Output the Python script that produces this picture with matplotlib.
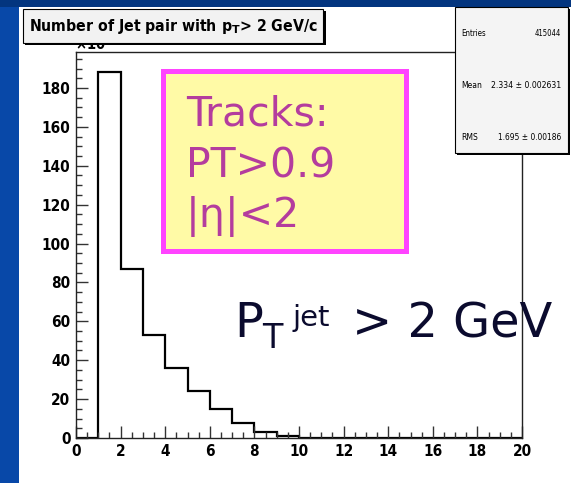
import matplotlib
matplotlib.use("Agg")
import matplotlib.pyplot as plt
from matplotlib.patches import Rectangle
from matplotlib import font_manager
from matplotlib.ticker import MultipleLocator

# Histogram content (units of 10^3 entries), one bin per unit from 0 to 20
bin_edges = list(range(0, 21))
counts = [0, 188, 87, 53, 36, 24, 15, 7.5, 3.1, 1.0,
          0, 0, 0, 0, 0, 0, 0, 0, 0, 0]

title_text = r"Number of Jet pair with p$_{\mathbf{T}}$> 2 GeV/c"
stat_names = ["Entries", "Mean", "RMS"]
stat_values = ["415044", "2.334 \u00b1 0.002631", "1.695 \u00b1 0.00186"]
cut_lines = ["Tracks:", "PT>0.9", "|\u03b7|<2"]

W, H = 571, 483


def fx(px):
    return px / W


def fy(py):
    return 1 - py / H


def frect(x0, y0, x1, y1, **kw):
    return Rectangle((fx(x0), fy(y1)), (x1 - x0) / W, (y1 - y0) / H,
                     transform=fig.transFigure, **kw)


# narrow faces for the axis annotations, with plain fallbacks
def find_font(patterns, fallback_family, weight):
    for p in patterns:
        for f in font_manager.fontManager.ttflist:
            if f.fname.endswith(p):
                return font_manager.FontProperties(fname=f.fname)
    return font_manager.FontProperties(family=fallback_family, weight=weight)


cond_bold = find_font(["LiberationSansNarrow-Bold.ttf", "DejaVuSansCondensed-Bold.ttf"],
                      "Liberation Sans", "bold")
cond_reg = find_font(["LiberationSansNarrow-Regular.ttf", "DejaVuSansCondensed.ttf"],
                     "Liberation Sans", "normal")

fig = plt.figure(figsize=(W / 100, H / 100), dpi=100)
fig.patch.set_facecolor("white")
renderer = fig.canvas.get_renderer()


def fit_width(text, target_px):
    w = text.get_window_extent(renderer=renderer).width
    text.set_fontsize(text.get_fontsize() * target_px / w)


# slide background strips
fig.add_artist(frect(0, 0, 19, H, facecolor="#0848a8", edgecolor="none", zorder=-5))
fig.add_artist(frect(0, 0, W, 7, facecolor="#03357f", edgecolor="none", zorder=-5))

ax = fig.add_axes([fx(76), fy(438), (522 - 76) / W, (438 - 52) / H])
ax.stairs(counts, bin_edges, color="black", linewidth=1.6, baseline=0)
ax.set_xlim(0, 20)
ax.set_ylim(0, 198.5)
ax.xaxis.set_major_locator(MultipleLocator(2))
ax.xaxis.set_minor_locator(MultipleLocator(0.5))
ax.yaxis.set_major_locator(MultipleLocator(20))
ax.yaxis.set_minor_locator(MultipleLocator(5))
ax.tick_params(which="both", direction="in", top=False, right=False,
               width=1.0, color="#333333")
ax.tick_params(which="major", length=8.6)
ax.tick_params(which="minor", length=4.5)
ax.tick_params(axis="x", pad=4)
ax.tick_params(axis="y", pad=4)
for lab in ax.get_xticklabels() + ax.get_yticklabels():
    lab.set_fontproperties(cond_bold)
    lab.set_fontsize(11)
for s in ax.spines.values():
    s.set_linewidth(1.0)
    s.set_color("#222222")

# exponent marker above the y axis, partly tucked under the title box
t = fig.text(fx(75), fy(52.5), "\u00d710$^{3}$", ha="left", va="bottom", zorder=2)
t.set_fontproperties(cond_bold)
t.set_fontsize(10.5)

# title box
fig.add_artist(frect(25, 11, 326, 45, facecolor="black", edgecolor="none", zorder=4))
fig.add_artist(frect(23, 9, 323, 43, facecolor="#f2f2f2", edgecolor="black",
                     linewidth=0.8, zorder=5))
t = fig.text(fx(173), fy(27), title_text, ha="center", va="center", zorder=6)
t.set_fontproperties(cond_bold)
t.set_fontsize(14)
fit_width(t, 290)

# statistics box
fig.add_artist(frect(457, 9, 570, 155, facecolor="black", edgecolor="none", zorder=4))
fig.add_artist(frect(455, 7, 568, 153, facecolor="#f4f4f4", edgecolor="black",
                     linewidth=0.8, zorder=5))
for name, val, yy in zip(stat_names, stat_values, [34, 86, 137]):
    a = fig.text(fx(461), fy(yy), name, ha="left", va="center", zorder=6)
    b = fig.text(fx(561), fy(yy), val, ha="right", va="center", zorder=6)
    for tt in (a, b):
        tt.set_fontproperties(cond_reg)
        tt.set_fontsize(7)
    if name == "Mean":
        fit_width(b, 71)
        fit_width(a, 21)
    elif name == "RMS":
        fit_width(b, 64)
        fit_width(a, 17)
    else:
        fit_width(a, 25)
        fit_width(b, 26)

# selection box
fig.add_artist(frect(162.5, 70.5, 405.5, 250.5, facecolor="#fffaa6",
                     edgecolor="#ff44ff", linewidth=3.6, zorder=5))
for line, yb in zip(cut_lines, [125, 178, 227]):
    fig.text(fx(186), fy(yb), line, ha="left", va="baseline",
             family="DejaVu Sans", fontsize=29.5, color="#b43c9e", zorder=6)

# jet threshold label
ink = "#0b0b2e"
fig.text(fx(234), fy(337), "P", ha="left", va="baseline",
         family="DejaVu Sans", fontsize=34.5, color=ink, zorder=6)
fig.text(fx(262), fy(348), "T", ha="left", va="baseline",
         family="DejaVu Sans", fontsize=24, color=ink, zorder=6)
fig.text(fx(293), fy(326), "jet", ha="left", va="baseline",
         family="DejaVu Sans", fontsize=21, color=ink, zorder=6)
fig.text(fx(352), fy(337), "> 2 GeV", ha="left", va="baseline",
         family="DejaVu Sans", fontsize=34.5, color=ink, zorder=6)

fig.savefig("out.png", dpi=100)
